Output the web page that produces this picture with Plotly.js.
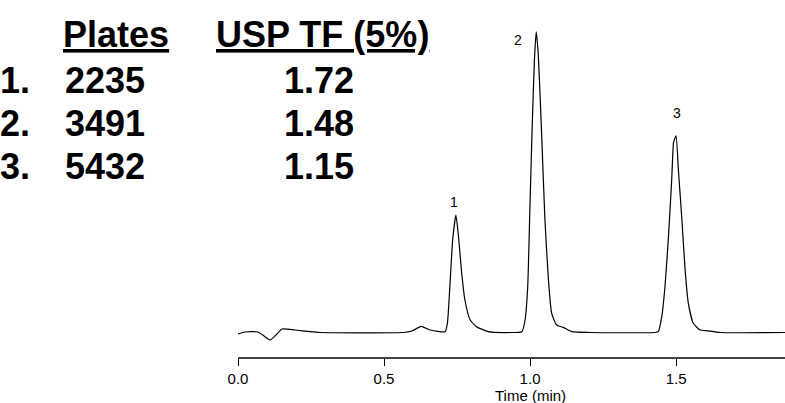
<!DOCTYPE html>
<html>
<head>
<meta charset="utf-8">
<script src="https://cdn.plot.ly/plotly-3.0.1.min.js"></script>
<style>
html, body { margin: 0; padding: 0; background: #ffffff; }
#chart { width: 785px; height: 403px; }
</style>
</head>
<body>
<div id="chart"></div>
<script>
// Chromatogram trace (time in min, detector signal in relative units)
var timeMin = [
  0.000, 0.024, 0.068, 0.089, 0.110, 0.130, 0.151, 0.195, 0.247, 0.281,
  0.562, 0.596, 0.627, 0.658, 0.709,
  0.717, 0.726, 0.735, 0.746, 0.754, 0.766, 0.777, 0.795, 0.817, 0.857, 0.932, 0.972,
  0.983, 0.992, 1.000, 1.008, 1.015, 1.021, 1.028, 1.040, 1.051, 1.063, 1.074, 1.091, 1.114, 1.143, 1.205,
  1.428, 1.439,
  1.451, 1.462, 1.474, 1.485, 1.491, 1.494, 1.500, 1.508, 1.520, 1.531, 1.542, 1.559, 1.582, 1.605, 1.651, 1.873
];
var signal = [
  -0.5, 0.17, 0.17, -1.16, -2.49, -0.83, 1.16, 0.83, 0.27, 0.0,
  0.0, 0.5, 2.06, 0.83, 0.27,
  3.06, 16.3, 30.7, 39.0, 33.0, 19.7, 10.8, 4.15, 1.93, 0.27, 0.0, 0.27,
  4.15, 15.2, 43.0, 70.6, 90.5, 99.9, 92.8, 65.0, 37.4, 17.4, 6.4, 2.5, 1.7, 0.27, 0.0,
  0.0, 0.27,
  5.25, 15.2, 31.8, 50.7, 62.9, 64.0, 65.3, 54.0, 37.4, 20.8, 9.7, 3.06, 0.83, 0.6, 0.0, 0.0
];

// Peak labels
var peakNames = ["1", "2", "3"];
var peakTimes = [0.746, 1.021, 1.500];
var peakHeights = [39.0, 99.9, 65.3];

// Tick labels
var tickVals = [0.0, 0.5, 1.0, 1.5];
var tickText = ["0.0", "0.5", "1.0", "1.5"];

// Results table
var tableHeaders = ["Plates", "USP TF (5%)"];
var rowLabels = ["1.", "2.", "3."];
var plates = ["2235", "3491", "5432"];
var tailing = ["1.72", "1.48", "1.15"];

var W = 785, H = 403;
var M = {l: 238, r: 0, t: 10, b: 46};
var PW = W - M.l - M.r, PH = H - M.t - M.b;
function px(x) { return (x - M.l) / PW; }
function py(y) { return (H - M.b - y) / PH; }

var FONT = "Liberation Sans, Arial, sans-serif";
var big = {family: FONT, size: 36, color: "#000000", weight: "bold"};

var annotations = [];
var peakShift = [[-2, 13], [-18, -8], [1, 22.7]];
for (var i = 0; i < peakNames.length; i++) {
  annotations.push({
    x: peakTimes[i], y: peakHeights[i], xref: "x", yref: "y",
    text: peakNames[i], showarrow: false,
    xanchor: "center", yanchor: "middle",
    xshift: peakShift[i][0], yshift: peakShift[i][1],
    font: {family: FONT, size: 14, color: "#000000"}
  });
}
annotations.push({
  x: 1.0, y: py(395), xref: "x", yref: "paper",
  text: "Time (min)", showarrow: false, xanchor: "center", yanchor: "middle",
  font: {family: FONT, size: 15, color: "#000000"}
});

var headerX = [61, 214];
for (var j = 0; j < tableHeaders.length; j++) {
  annotations.push({
    x: px(headerX[j]), y: py(34), xref: "paper", yref: "paper",
    text: "<b><u>" + tableHeaders[j] + "</u></b>", showarrow: false,
    xanchor: "left", yanchor: "middle", font: big
  });
}
var rowY = [80.3, 123.5, 166.7];
for (var k = 0; k < rowLabels.length; k++) {
  annotations.push({
    x: px(-2), y: py(rowY[k]), xref: "paper", yref: "paper",
    text: "<b>" + rowLabels[k] + "</b>", showarrow: false,
    xanchor: "left", yanchor: "middle", font: big
  });
  annotations.push({
    x: px(63), y: py(rowY[k]), xref: "paper", yref: "paper",
    text: "<b>" + plates[k] + "</b>", showarrow: false,
    xanchor: "left", yanchor: "middle", font: big
  });
  annotations.push({
    x: px(282), y: py(rowY[k]), xref: "paper", yref: "paper",
    text: "<b>" + tailing[k] + "</b>", showarrow: false,
    xanchor: "left", yanchor: "middle", font: big
  });
}

var trace = {
  x: timeMin, y: signal, type: "scatter", mode: "lines",
  line: {color: "#000000", width: 1.2, shape: "spline", smoothing: 0.5},
  hoverinfo: "skip"
};

var layout = {
  width: W, height: H,
  margin: M,
  paper_bgcolor: "#ffffff", plot_bgcolor: "#ffffff",
  showlegend: false,
  xaxis: {
    range: [0, 1.873], showgrid: false, zeroline: false,
    showline: true, linecolor: "#444444", linewidth: 1.5,
    ticks: "outside", ticklen: 7, tickwidth: 1, tickcolor: "#000000",
    tickvals: tickVals, ticktext: tickText,
    tickfont: {family: FONT, size: 15, color: "#000000"}
  },
  yaxis: {
    range: [-8.14, 107.14], visible: false, showgrid: false, zeroline: false
  },
  annotations: annotations
};

Plotly.newPlot("chart", [trace], layout, {displayModeBar: false, staticPlot: true});
</script>
</body>
</html>
